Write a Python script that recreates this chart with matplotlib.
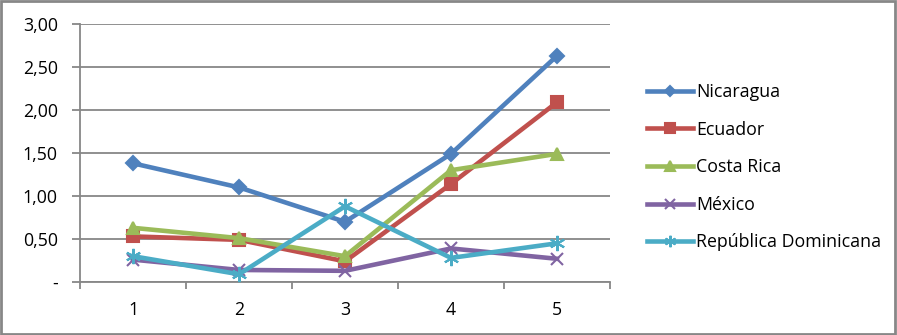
import matplotlib
matplotlib.use('Agg')
import matplotlib.pyplot as plt
from matplotlib.patches import Rectangle
from matplotlib.ticker import FuncFormatter, FixedLocator
import numpy as np

plt.rcParams['font.family'] = ['Open Sans', 'DejaVu Sans']

# data
categories = [1, 2, 3, 4, 5]
nicaragua = [1.38, 1.10, 0.70, 1.49, 2.63]
ecuador = [0.53, 0.49, 0.24, 1.14, 2.09]
costa_rica = [0.63, 0.51, 0.30, 1.30, 1.49]
mexico = [0.26, 0.14, 0.13, 0.39, 0.27]
rep_dominicana = [0.30, 0.09, 0.88, 0.28, 0.45]

series = [
    ('Nicaragua', nicaragua, '#4F81BD', 'D', 7),
    ('Ecuador', ecuador, '#C0504D', 's', 9),
    ('Costa Rica', costa_rica, '#9BBB59', '^', 9),
    ('México', mexico, '#8064A2', 'x', 9),
    ('República Dominicana', rep_dominicana, '#4BACC6', (6, 2, 0), 11),
]

fig = plt.figure(figsize=(8.97, 3.35), dpi=100)
ax = fig.add_axes([80 / 897, (335 - 282) / 335, 530 / 897, 258 / 335])

x = np.arange(len(categories))
for name, vals, col, mk, ms in series:
    ax.plot(x, vals, color=col, lw=3.3, marker=mk, markersize=ms,
            markeredgecolor=col, markerfacecolor=col, markeredgewidth=1.5,
            label=name, zorder=3)

grid_col = '#878787'
fs = 12.8
ax.set_xlim(-0.5, len(categories) - 0.5)
ax.set_ylim(0, 3.0)
ax.set_yticks(np.arange(0, 3.01, 0.5))
ax.yaxis.set_major_formatter(FuncFormatter(
    lambda v, p: '-' if abs(v) < 1e-9 else f'{v:.2f}'.replace('.', ',')))
ax.grid(axis='y', color=grid_col, lw=1.3, zorder=0)

# category labels centered, ticks at the boundaries
ax.xaxis.set_major_locator(FixedLocator(np.arange(-0.5, len(categories), 1.0)))
ax.xaxis.set_major_formatter(FuncFormatter(lambda v, p: ''))
ax.xaxis.set_minor_locator(FixedLocator(x))
ax.set_xticklabels([str(c) for c in categories], minor=True)
ax.tick_params(axis='x', which='minor', length=0, pad=14, labelsize=fs)
ax.tick_params(axis='x', which='major', length=5, width=1.3, color=grid_col)
ax.tick_params(axis='y', length=6, width=1.3, color=grid_col, pad=10, labelsize=fs)

for s in ['top', 'right']:
    ax.spines[s].set_visible(False)
for s in ['left', 'bottom']:
    ax.spines[s].set_color(grid_col)
    ax.spines[s].set_linewidth(1.3)

ax.legend(loc='center left', bbox_to_anchor=(1.04, 0.445), frameon=False,
          fontsize=fs, handlelength=2.6, handletextpad=0.15,
          labelspacing=1.1, markerscale=0.75)

# outer chart border
fig.patches.append(Rectangle((0.001, 0.002), 0.997, 0.995, transform=fig.transFigure,
                             fill=False, edgecolor=grid_col, lw=2))

fig.savefig('out.png', dpi=100)
